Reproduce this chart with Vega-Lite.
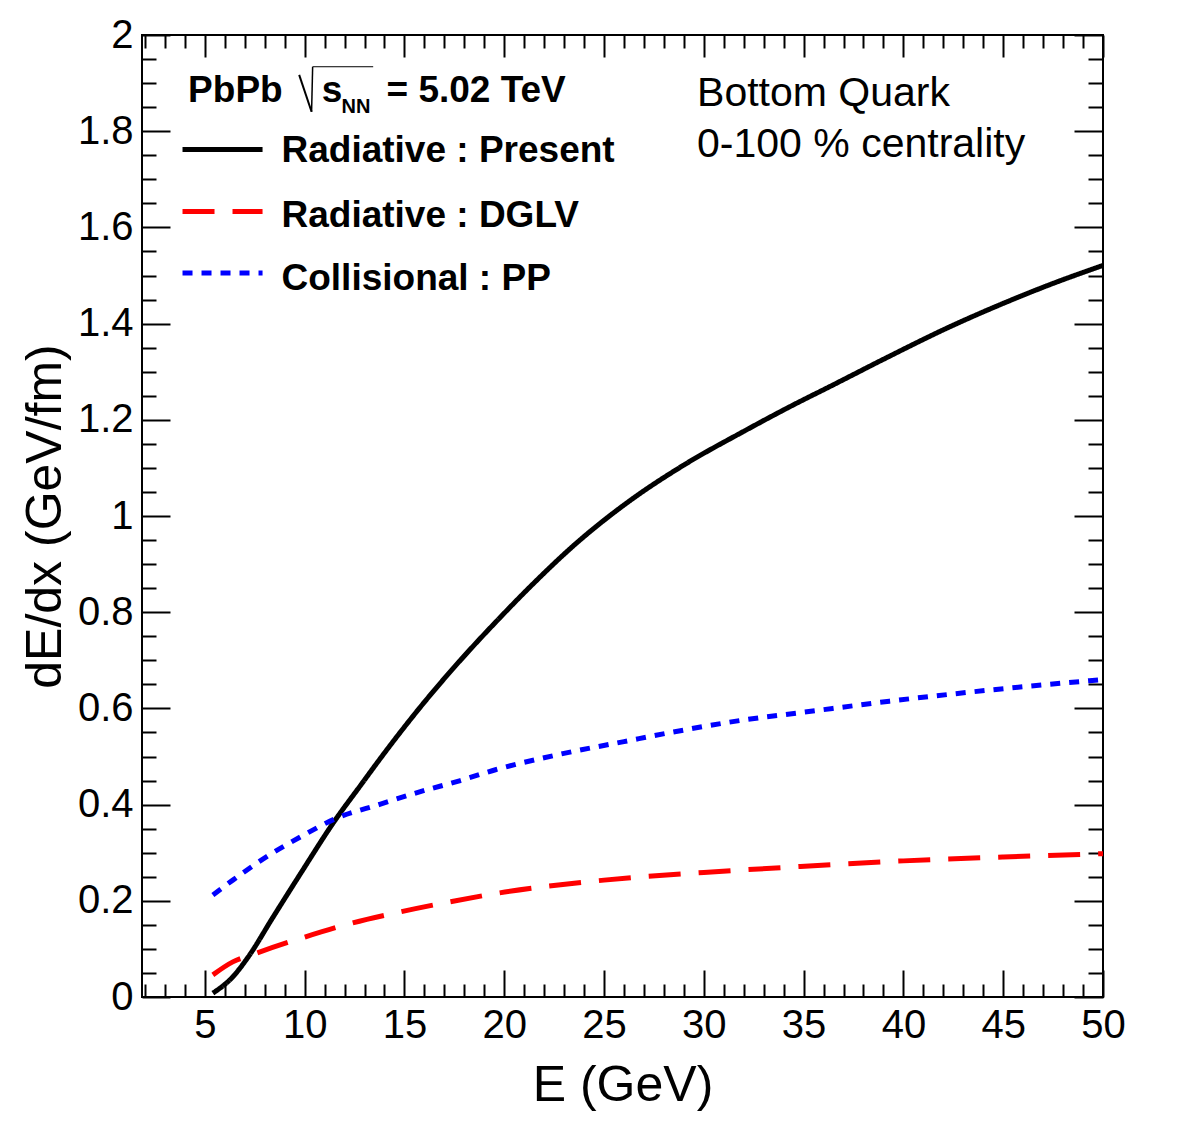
{
  "$schema": "https://vega.github.io/schema/vega-lite/v6.json",
  "width": 961,
  "height": 962,
  "autosize": {"type": "none"},
  "padding": {"left": 142, "top": 35, "right": 79, "bottom": 137},
  "background": "white",
  "config": {
    "font": "Liberation Sans",
    "view": {"stroke": "#000", "strokeWidth": 2},
    "axis": {
      "grid": false, "domain": false,
      "labelFont": "Liberation Sans", "labelFontSize": 40, "labelColor": "#000",
      "labelOverlap": false, "labelFlush": false,
      "titleFont": "Liberation Sans", "titleFontSize": 50, "titleFontWeight": "normal", "titleColor": "#000",
      "tickColor": "#000", "tickWidth": 2
    }
  },
  "datasets": {
    "curves": [
      {"E": 5.4, "dEdx": 0.008, "series": "Radiative : Present"},
      {"E": 6.4, "dEdx": 0.042, "series": "Radiative : Present"},
      {"E": 7.2, "dEdx": 0.085, "series": "Radiative : Present"},
      {"E": 8.4, "dEdx": 0.165, "series": "Radiative : Present"},
      {"E": 9.8, "dEdx": 0.257, "series": "Radiative : Present"},
      {"E": 11.5, "dEdx": 0.366, "series": "Radiative : Present"},
      {"E": 12.8, "dEdx": 0.44, "series": "Radiative : Present"},
      {"E": 14.1, "dEdx": 0.513, "series": "Radiative : Present"},
      {"E": 15.8, "dEdx": 0.603, "series": "Radiative : Present"},
      {"E": 17.8, "dEdx": 0.7, "series": "Radiative : Present"},
      {"E": 19.7, "dEdx": 0.785, "series": "Radiative : Present"},
      {"E": 21.3, "dEdx": 0.853, "series": "Radiative : Present"},
      {"E": 23.6, "dEdx": 0.943, "series": "Radiative : Present"},
      {"E": 26.3, "dEdx": 1.032, "series": "Radiative : Present"},
      {"E": 29.0, "dEdx": 1.106, "series": "Radiative : Present"},
      {"E": 32.0, "dEdx": 1.176, "series": "Radiative : Present"},
      {"E": 34.3, "dEdx": 1.227, "series": "Radiative : Present"},
      {"E": 36.5, "dEdx": 1.273, "series": "Radiative : Present"},
      {"E": 39.2, "dEdx": 1.330, "series": "Radiative : Present"},
      {"E": 42.2, "dEdx": 1.391, "series": "Radiative : Present"},
      {"E": 45.0, "dEdx": 1.442, "series": "Radiative : Present"},
      {"E": 47.4, "dEdx": 1.482, "series": "Radiative : Present"},
      {"E": 50.0, "dEdx": 1.521, "series": "Radiative : Present"},
      {"E": 5.4, "dEdx": 0.046, "series": "Radiative : DGLV"},
      {"E": 6.4, "dEdx": 0.073, "series": "Radiative : DGLV"},
      {"E": 7.3, "dEdx": 0.087, "series": "Radiative : DGLV"},
      {"E": 9.8, "dEdx": 0.122, "series": "Radiative : DGLV"},
      {"E": 12.3, "dEdx": 0.153, "series": "Radiative : DGLV"},
      {"E": 14.8, "dEdx": 0.177, "series": "Radiative : DGLV"},
      {"E": 17.3, "dEdx": 0.198, "series": "Radiative : DGLV"},
      {"E": 19.7, "dEdx": 0.216, "series": "Radiative : DGLV"},
      {"E": 25.0, "dEdx": 0.243, "series": "Radiative : DGLV"},
      {"E": 30.0, "dEdx": 0.259, "series": "Radiative : DGLV"},
      {"E": 34.3, "dEdx": 0.27, "series": "Radiative : DGLV"},
      {"E": 40.0, "dEdx": 0.283, "series": "Radiative : DGLV"},
      {"E": 45.0, "dEdx": 0.291, "series": "Radiative : DGLV"},
      {"E": 50.0, "dEdx": 0.298, "series": "Radiative : DGLV"},
      {"E": 5.4, "dEdx": 0.212, "series": "Collisional : PP"},
      {"E": 6.4, "dEdx": 0.243, "series": "Collisional : PP"},
      {"E": 8.1, "dEdx": 0.292, "series": "Collisional : PP"},
      {"E": 9.8, "dEdx": 0.333, "series": "Collisional : PP"},
      {"E": 11.5, "dEdx": 0.37, "series": "Collisional : PP"},
      {"E": 13.8, "dEdx": 0.401, "series": "Collisional : PP"},
      {"E": 15.8, "dEdx": 0.427, "series": "Collisional : PP"},
      {"E": 17.8, "dEdx": 0.45, "series": "Collisional : PP"},
      {"E": 19.6, "dEdx": 0.473, "series": "Collisional : PP"},
      {"E": 22.6, "dEdx": 0.503, "series": "Collisional : PP"},
      {"E": 26.0, "dEdx": 0.531, "series": "Collisional : PP"},
      {"E": 29.0, "dEdx": 0.555, "series": "Collisional : PP"},
      {"E": 32.0, "dEdx": 0.576, "series": "Collisional : PP"},
      {"E": 35.0, "dEdx": 0.592, "series": "Collisional : PP"},
      {"E": 39.3, "dEdx": 0.615, "series": "Collisional : PP"},
      {"E": 44.3, "dEdx": 0.638, "series": "Collisional : PP"},
      {"E": 50.0, "dEdx": 0.66, "series": "Collisional : PP"}
    ]
  },
  "resolve": {"axis": {"x": "independent", "y": "independent"}},
  "layer": [
    {
      "data": {"name": "curves"},
      "mark": {"type": "line", "interpolate": "monotone", "strokeWidth": 5},
      "encoding": {
        "x": {"field": "E", "type": "quantitative",
          "scale": {"domain": [1.85, 50], "nice": false, "zero": false},
          "axis": {"orient": "bottom", "values": [5,10,15,20,25,30,35,40,45,50], "format": "d", "ticks": false, "labelPadding": 8,
            "title": "E (GeV)", "titleX": 480.5, "titleY": 103, "titleBaseline": "alphabetic", "titleAnchor": "middle", "titleAlign": "center"}},
        "y": {"field": "dEdx", "type": "quantitative",
          "scale": {"domain": [0, 2], "nice": false, "zero": false},
          "axis": {"orient": "left", "values": [0,0.2,0.4,0.6,0.8,1,1.2,1.4,1.6,1.8,2], "format": "~g", "ticks": false, "labelPadding": 9,
            "title": "dE/dx (GeV/fm)", "titleX": -82, "titleY": 481, "titleAngle": -90, "titleBaseline": "alphabetic", "titleAlign": "center"}},
        "color": {"field": "series", "type": "nominal", "legend": null,
          "scale": {"domain": ["Radiative : Present", "Radiative : DGLV", "Collisional : PP"], "range": ["#000000", "#ff0000", "#0000ff"]}},
        "strokeDash": {"field": "series", "type": "nominal", "legend": null,
          "scale": {"domain": ["Radiative : Present", "Radiative : DGLV", "Collisional : PP"], "range": [[1, 0], [32, 18], [10, 9]]}}
      }
    },
    {
      "data": {"name": "curves"},
      "mark": {"type": "line", "opacity": 0},
      "encoding": {
        "x": {"field": "E", "type": "quantitative", "axis": {"orient": "bottom", "values": [5,10,15,20,25,30,35,40,45,50], "labels": false, "tickSize": -27, "title": null}},
        "y": {"field": "dEdx", "type": "quantitative", "axis": {"orient": "left", "values": [0,0.2,0.4,0.6,0.8,1,1.2,1.4,1.6,1.8,2], "labels": false, "tickSize": -28, "title": null}},
        "detail": {"field": "series"}
      }
    },
    {
      "data": {"name": "curves"},
      "mark": {"type": "line", "opacity": 0},
      "encoding": {
        "x": {"field": "E", "type": "quantitative", "axis": {"orient": "bottom", "values": [2,3,4,6,7,8,9,11,12,13,14,16,17,18,19,21,22,23,24,26,27,28,29,31,32,33,34,36,37,38,39,41,42,43,44,46,47,48,49], "labels": false, "tickSize": -13, "title": null}},
        "y": {"field": "dEdx", "type": "quantitative", "axis": {"orient": "left", "values": [0.05,0.1,0.15,0.25,0.3,0.35,0.45,0.5,0.55,0.65,0.7,0.75,0.85,0.9,0.95,1.05,1.1,1.15,1.25,1.3,1.35,1.45,1.5,1.55,1.65,1.7,1.75,1.85,1.9,1.95], "labels": false, "tickSize": -14, "title": null}},
        "detail": {"field": "series"}
      }
    },
    {
      "data": {"name": "curves"},
      "mark": {"type": "line", "opacity": 0},
      "encoding": {
        "x": {"field": "E", "type": "quantitative", "axis": {"orient": "top", "values": [5,10,15,20,25,30,35,40,45,50], "labels": false, "tickSize": -22, "title": null}},
        "y": {"field": "dEdx", "type": "quantitative", "axis": {"orient": "right", "values": [0,0.2,0.4,0.6,0.8,1,1.2,1.4,1.6,1.8,2], "labels": false, "tickSize": -29, "title": null}},
        "detail": {"field": "series"}
      }
    },
    {
      "data": {"name": "curves"},
      "mark": {"type": "line", "opacity": 0},
      "encoding": {
        "x": {"field": "E", "type": "quantitative", "axis": {"orient": "top", "values": [2,3,4,6,7,8,9,11,12,13,14,16,17,18,19,21,22,23,24,26,27,28,29,31,32,33,34,36,37,38,39,41,42,43,44,46,47,48,49], "labels": false, "tickSize": -13, "title": null}},
        "y": {"field": "dEdx", "type": "quantitative", "axis": {"orient": "right", "values": [0.05,0.1,0.15,0.25,0.3,0.35,0.45,0.5,0.55,0.65,0.7,0.75,0.85,0.9,0.95,1.05,1.1,1.15,1.25,1.3,1.35,1.45,1.5,1.55,1.65,1.7,1.75,1.85,1.9,1.95], "labels": false, "tickSize": -15, "title": null}},
        "detail": {"field": "series"}
      }
    },
    {
      "data": {"values": [{}]},
      "mark": {"type": "rule", "stroke": "#000000", "strokeWidth": 5},
      "encoding": {"x": {"datum": 3.88, "type": "quantitative", "axis": null}, "x2": {"datum": 7.89}, "y": {"datum": 1.762, "type": "quantitative", "axis": null}}
    },
    {
      "data": {"values": [{}]},
      "mark": {"type": "rule", "stroke": "#ff0000", "strokeWidth": 5, "strokeDash": [32, 18]},
      "encoding": {"x": {"datum": 3.88, "type": "quantitative", "axis": null}, "x2": {"datum": 7.89}, "y": {"datum": 1.633, "type": "quantitative", "axis": null}}
    },
    {
      "data": {"values": [{}]},
      "mark": {"type": "rule", "stroke": "#0000ff", "strokeWidth": 5, "strokeDash": [10, 9]},
      "encoding": {"x": {"datum": 3.88, "type": "quantitative", "axis": null}, "x2": {"datum": 7.89}, "y": {"datum": 1.505, "type": "quantitative", "axis": null}}
    },
    {
      "data": {"values": [{}]},
      "mark": {"type": "rule", "stroke": "#000000", "strokeWidth": 2},
      "encoding": {"x": {"datum": 9.725, "type": "quantitative", "axis": null}, "x2": {"datum": 10.347}, "y": {"datum": 1.917, "type": "quantitative", "axis": null}, "y2": {"datum": 1.8405}}
    },
    {
      "data": {"values": [{}]},
      "mark": {"type": "rule", "stroke": "#000000", "strokeWidth": 1.5},
      "encoding": {"x": {"datum": 10.347, "type": "quantitative", "axis": null}, "x2": {"datum": 10.40}, "y": {"datum": 1.8405, "type": "quantitative", "axis": null}, "y2": {"datum": 1.934}}
    },
    {
      "data": {"values": [{}]},
      "mark": {"type": "rule", "stroke": "#000000", "strokeWidth": 1},
      "encoding": {"x": {"datum": 10.40, "type": "quantitative", "axis": null}, "x2": {"datum": 13.434}, "y": {"datum": 1.934, "type": "quantitative", "axis": null}}
    },
    {
      "data": {"values": [{}]},
      "mark": {"type": "text", "text": "Radiative : Present", "font": "Liberation Sans", "fontWeight": "bold", "fontSize": 37, "align": "left", "baseline": "alphabetic", "color": "#000"},
      "encoding": {"x": {"datum": 8.84, "type": "quantitative", "axis": null}, "y": {"datum": 1.737, "type": "quantitative", "axis": null}}
    },
    {
      "data": {"values": [{}]},
      "mark": {"type": "text", "text": "Radiative : DGLV", "font": "Liberation Sans", "fontWeight": "bold", "fontSize": 37, "align": "left", "baseline": "alphabetic", "color": "#000"},
      "encoding": {"x": {"datum": 8.84, "type": "quantitative", "axis": null}, "y": {"datum": 1.601, "type": "quantitative", "axis": null}}
    },
    {
      "data": {"values": [{}]},
      "mark": {"type": "text", "text": "Collisional : PP", "font": "Liberation Sans", "fontWeight": "bold", "fontSize": 37, "align": "left", "baseline": "alphabetic", "color": "#000"},
      "encoding": {"x": {"datum": 8.84, "type": "quantitative", "axis": null}, "y": {"datum": 1.47, "type": "quantitative", "axis": null}}
    },
    {
      "data": {"values": [{}]},
      "mark": {"type": "text", "text": "PbPb", "font": "Liberation Sans", "fontWeight": "bold", "fontSize": 37, "align": "left", "baseline": "alphabetic", "color": "#000"},
      "encoding": {"x": {"datum": 4.16, "type": "quantitative", "axis": null}, "y": {"datum": 1.861, "type": "quantitative", "axis": null}}
    },
    {
      "data": {"values": [{}]},
      "mark": {"type": "text", "text": "s", "font": "Liberation Sans", "fontWeight": "bold", "fontSize": 37, "align": "left", "baseline": "alphabetic", "color": "#000"},
      "encoding": {"x": {"datum": 10.85, "type": "quantitative", "axis": null}, "y": {"datum": 1.861, "type": "quantitative", "axis": null}}
    },
    {
      "data": {"values": [{}]},
      "mark": {"type": "text", "text": "NN", "font": "Liberation Sans", "fontWeight": "bold", "fontSize": 20, "align": "left", "baseline": "alphabetic", "color": "#000"},
      "encoding": {"x": {"datum": 11.85, "type": "quantitative", "axis": null}, "y": {"datum": 1.837, "type": "quantitative", "axis": null}}
    },
    {
      "data": {"values": [{}]},
      "mark": {"type": "text", "text": "= 5.02 TeV", "font": "Liberation Sans", "fontWeight": "bold", "fontSize": 37, "align": "left", "baseline": "alphabetic", "color": "#000"},
      "encoding": {"x": {"datum": 14.1, "type": "quantitative", "axis": null}, "y": {"datum": 1.861, "type": "quantitative", "axis": null}}
    },
    {
      "data": {"values": [{}]},
      "mark": {"type": "text", "text": "Bottom Quark", "font": "Liberation Sans", "fontWeight": "normal", "fontSize": 41, "align": "left", "baseline": "alphabetic", "color": "#000"},
      "encoding": {"x": {"datum": 29.66, "type": "quantitative", "axis": null}, "y": {"datum": 1.852, "type": "quantitative", "axis": null}}
    },
    {
      "data": {"values": [{}]},
      "mark": {"type": "text", "text": "0-100 % centrality", "font": "Liberation Sans", "fontWeight": "normal", "fontSize": 41, "align": "left", "baseline": "alphabetic", "color": "#000"},
      "encoding": {"x": {"datum": 29.66, "type": "quantitative", "axis": null}, "y": {"datum": 1.746, "type": "quantitative", "axis": null}}
    }
  ]
}
